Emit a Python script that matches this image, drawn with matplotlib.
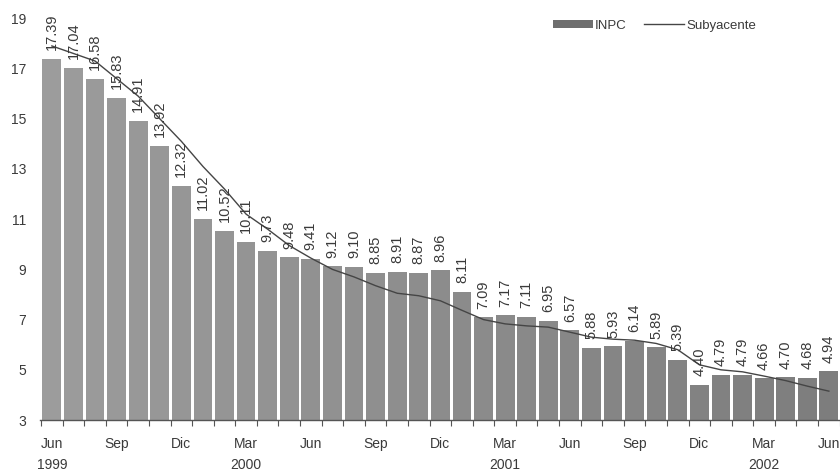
import matplotlib
matplotlib.use("Agg")
import matplotlib.pyplot as plt
from matplotlib.patches import Patch
from matplotlib.lines import Line2D
import numpy as np

plt.rcParams['font.family'] = ['Liberation Sans', 'DejaVu Sans']

# Monthly headline inflation (INPC, annual %) Jun 1999 - Jun 2002
inpc = [17.39, 17.04, 16.58, 15.83, 14.91, 13.92, 12.32,
        11.02, 10.52, 10.11, 9.73, 9.48, 9.41, 9.12, 9.10, 8.85, 8.91, 8.87, 8.96,
        8.11, 7.09, 7.17, 7.11, 6.95, 6.57, 5.88, 5.93, 6.14, 5.89, 5.39, 4.40,
        4.79, 4.79, 4.66, 4.70, 4.68, 4.94]
inpc_labels = ["17.39", "17.04", "16.58", "15.83", "14.91", "13.92", "12.32",
               "11.02", "10.52", "10.11", "9.73", "9.48", "9.41", "9.12", "9.10",
               "8.85", "8.91", "8.87", "8.96", "8.11", "7.09", "7.17", "7.11",
               "6.95", "6.57", "5.88", "5.93", "6.14", "5.89", "5.39", "4.40",
               "4.79", "4.79", "4.66", "4.70", "4.68", "4.94"]

# Core inflation (Subyacente, annual %)
subyacente = [17.9, 17.6, 17.3, 16.6, 15.9, 15.0, 14.1,
              13.1, 12.2, 11.2, 10.6, 9.95, 9.45, 9.0, 8.7, 8.35, 8.05, 7.95, 7.75,
              7.37, 7.0, 6.83, 6.75, 6.7, 6.5, 6.3, 6.22, 6.18, 6.05, 5.8, 5.2,
              5.0, 4.92, 4.75, 4.57, 4.35, 4.15]

month_labels = ["Jun\n1999", "Sep", "Dic", "Mar\n2000", "Jun", "Sep", "Dic",
                "Mar\n2001", "Jun", "Sep", "Dic", "Mar\n2002", "Jun"]
month_positions = list(range(0, 37, 3))
y_ticks = [3, 5, 7, 9, 11, 13, 15, 17, 19]

text_color = "#3a3a3a"

fig = plt.figure(figsize=(8.4, 4.73), dpi=100)
ax = fig.add_axes([0.0476, 0.112, 0.952, 0.888])

x = np.arange(len(inpc))
# bars get slightly darker toward the end of the period
shade = np.linspace(0.61, 0.49, len(inpc))
bar_colors = [(s, s, s) for s in shade]
ax.bar(x, inpc, width=0.87, color=bar_colors, edgecolor="none", zorder=2)
ax.plot(x, subyacente, color="#454545", lw=1.0, zorder=3)

for xi, v, s in zip(x, inpc, inpc_labels):
    ax.text(xi, v + 0.35, s, rotation=90, ha="center", va="bottom",
            fontsize=10.5, color=text_color, zorder=4)

ax.set_xlim(-0.55, 36.4)
ax.set_ylim(3, 19.73)

for side in ("top", "right", "left"):
    ax.spines[side].set_visible(False)
ax.spines["bottom"].set_color("#555555")
ax.spines["bottom"].set_linewidth(1.0)

ax.set_yticks(y_ticks)
ax.set_yticklabels([str(t) for t in y_ticks])
ax.tick_params(axis="y", length=0, pad=10, labelsize=10, labelcolor=text_color)

ax.set_xticks(month_positions)
ax.set_xticklabels(month_labels, linespacing=1.7)
ax.set_xticks(np.arange(-0.5, 37, 1), minor=True)
ax.tick_params(axis="x", which="major", length=0, pad=12, labelsize=10,
               labelcolor=text_color)
ax.tick_params(axis="x", which="minor", length=4, color="#555555", width=0.8)

handles = [Patch(facecolor="#6e6e6e", edgecolor="none"),
           Line2D([0], [0], color="#454545", lw=1.0)]
leg = ax.legend(handles, ["INPC", "Subyacente"], loc="upper left",
                bbox_to_anchor=(0.63, 0.975), ncol=2, frameon=False,
                fontsize=9.5, handlelength=3.0, handleheight=0.6,
                handletextpad=0.2, columnspacing=1.3, borderaxespad=0.3)
for t in leg.get_texts():
    t.set_color(text_color)

fig.savefig("out.png", dpi=100)
